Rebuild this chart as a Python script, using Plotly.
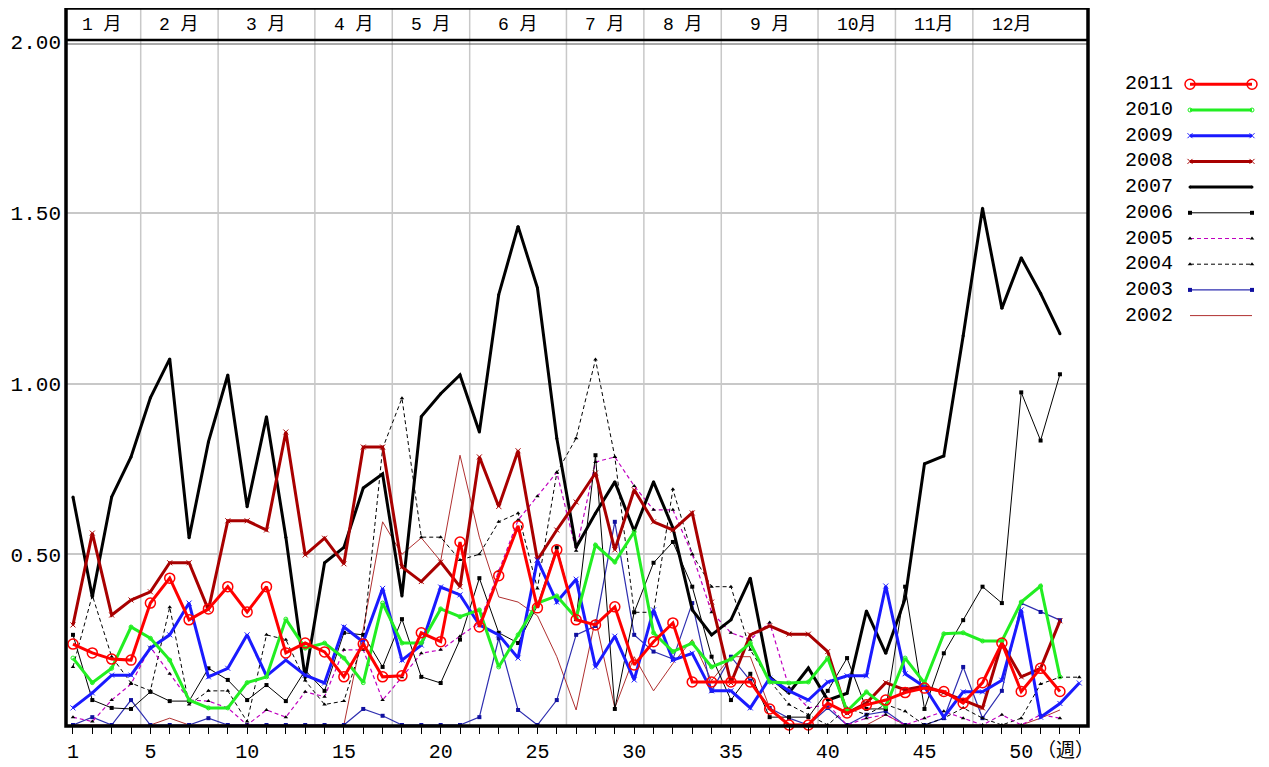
import plotly.graph_objects as go

# ---- data ----
years = ["2011", "2010", "2009", "2008", "2007", "2006", "2005", "2004", "2003", "2002"]

y2011 = [0.237, 0.211, 0.193, 0.19, 0.357, 0.43, 0.308, 0.34, 0.405, 0.331, 0.405, 0.211, 0.24,
         0.214, 0.141, 0.237, 0.141, 0.144, 0.27, 0.244, 0.536, 0.287, 0.437, 0.583, 0.343, 0.513,
         0.308, 0.293, 0.346, 0.176, 0.244, 0.299, 0.126, 0.126, 0.126, 0.126, 0.047, 0.0, 0.0,
         0.064, 0.035, 0.059, 0.073, 0.095, 0.108, 0.098, 0.064, 0.124, 0.24, 0.098, 0.166, 0.098]
y2010 = [0.196, 0.124, 0.166, 0.287, 0.254, 0.19, 0.073, 0.05, 0.05, 0.124, 0.141, 0.31, 0.225,
         0.24, 0.196, 0.124, 0.357, 0.24, 0.24, 0.34, 0.317, 0.337, 0.17, 0.264, 0.357, 0.378,
         0.313, 0.527, 0.477, 0.566, 0.27, 0.215, 0.24, 0.17, 0.193, 0.24, 0.126, 0.123, 0.126,
         0.196, 0.041, 0.097, 0.053, 0.196, 0.123, 0.267, 0.27, 0.246, 0.246, 0.36, 0.407, 0.141]
y2009 = [0.05, 0.094, 0.146, 0.146, 0.225, 0.264, 0.357, 0.141, 0.166, 0.264, 0.144, 0.19, 0.146,
         0.123, 0.287, 0.243, 0.40, 0.19, 0.234, 0.404, 0.381, 0.293, 0.264, 0.196, 0.483, 0.36,
         0.427, 0.17, 0.26, 0.132, 0.337, 0.19, 0.21, 0.1, 0.1, 0.05, 0.137, 0.1, 0.073, 0.126,
         0.144, 0.144, 0.407, 0.15, 0.112, 0.023, 0.097, 0.097, 0.131, 0.337, 0.023, 0.063, 0.123]
y2008 = [0.293, 0.562, 0.322, 0.366, 0.39, 0.475, 0.475, 0.337, 0.598, 0.598, 0.571, 0.858, 0.498,
         0.547, 0.472, 0.814, 0.814, 0.463, 0.42, 0.477, 0.405, 0.785, 0.64, 0.803, 0.483, 0.571,
         0.653, 0.738, 0.513, 0.689, 0.595, 0.571, 0.621, 0.36, 0.123, 0.264, 0.29, 0.266, 0.266,
         0.215, 0.035, 0.064, 0.124, 0.103, 0.114, 0.095, 0.073, 0.05, 0.24, 0.141, 0.166, 0.305]
y2007 = [0.668, 0.375, 0.668, 0.785, 0.958, 1.072, 0.548, 0.829, 1.025, 0.639, 0.903, 0.55, 0.138,
         0.475, 0.52, 0.694, 0.735, 0.378, 0.903, 0.97, 1.025, 0.858, 1.26, 1.46, 1.28, 0.84,
         0.52, 0.62, 0.712, 0.568, 0.712, 0.577, 0.337, 0.264, 0.308, 0.43, 0.141, 0.094, 0.167,
         0.073, 0.093, 0.334, 0.21, 0.37, 0.765, 0.788, 1.14, 1.513, 1.22, 1.368, 1.264, 1.146]
y2006 = [0.264, 0.073, 0.05, 0.047, 0.097, 0.07, 0.07, 0.166, 0.132, 0.073, 0.117, 0.07, 0.16,
         0.1, 0.27, 0.264, 0.17, 0.31, 0.141, 0.123, 0.25, 0.43, 0.27, 0.24, 0.35, 0.52, 0.31,
         0.79, 0.047, 0.33, 0.475, 0.536, 0.405, 0.2, 0.073, 0.15, 0.023, 0.023, 0.023, 0.1,
         0.196, 0.047, 0.047, 0.405, 0.047, 0.21, 0.307, 0.405, 0.357, 0.974, 0.833, 1.027]
y2005 = [0.023, 0.01, 0.073, 0.12, 0.228, 0.15, 0.073, 0.07, 0.05, 0.0, 0.044, 0.023, 0.097,
         0.083, 0.22, 0.22, 0.073, 0.14, 0.21, 0.22, 0.26, 0.3, 0.45, 0.6, 0.67, 0.74, 0.51,
         0.77, 0.785, 0.7, 0.63, 0.63, 0.5, 0.33, 0.27, 0.25, 0.3, 0.11, 0.05, 0.06, 0.0, 0.02,
         0.03, 0.0, 0.02, 0.04, 0.02, 0.0, 0.03, 0.0, 0.03, 0.02]
y2004 = [0.17, 0.38, 0.2, 0.123, 0.1, 0.345, 0.06, 0.1, 0.1, 0.01, 0.264, 0.25, 0.13, 0.06,
         0.07, 0.25, 0.81, 0.957, 0.55, 0.55, 0.483, 0.5, 0.595, 0.62, 0.4, 0.738, 0.84, 1.07,
         0.785, 0.33, 0.33, 0.69, 0.5, 0.405, 0.405, 0.22, 0.13, 0.06, 0.03, 0.0, 0.05, 0.03,
         0.06, 0.04, 0.0, 0.02, 0.05, 0.02, 0.0, 0.02, 0.12, 0.14, 0.14]
y2003 = [0.0, 0.023, 0.0, 0.073, 0.0, 0.0, 0.0, 0.02, 0.0, 0.0, 0.0, 0.0, 0.0, 0.0, 0.0, 0.047,
         0.027, 0.0, 0.0, 0.0, 0.0, 0.023, 0.254, 0.044, 0.0, 0.073, 0.264, 0.29, 0.595, 0.264,
         0.215, 0.193, 0.357, 0.1, 0.2, 0.13, 0.05, 0.02, 0.0, 0.05, 0.0, 0.03, 0.04, 0.0, 0.0,
         0.02, 0.17, 0.02, 0.1, 0.357, 0.331, 0.307]
y2002 = [0.0, 0.0, 0.0, 0.0, 0.0, 0.02, 0.0, 0.0, 0.0, 0.0, 0.0, 0.0, 0.0, 0.0, 0.0, 0.28, 0.595,
         0.5, 0.548, 0.48, 0.79, 0.55, 0.375, 0.36, 0.32, 0.2, 0.044, 0.31, 0.05, 0.2, 0.1, 0.18,
         0.25, 0.13, 0.2, 0.2, 0.05, 0.0, 0.0, 0.0, 0.0, 0.0, 0.03, 0.0, 0.0, 0.0, 0.0, 0.0, 0.0,
         0.0, 0.02, 0.044]

months = ["1 月", "2 月", "3 月", "4 月", "5 月", "6 月", "7 月", "8 月", "9 月", "10月", "11月", "12月"]
month_edges = [0.5, 4.5, 8.5, 13.5, 17.5, 21.5, 26.5, 30.5, 34.5, 39.5, 43.5, 47.5, 51.5]
x_labels = {1: "1", 5: "5", 10: "10", 15: "15", 20: "20", 25: "25", 30: "30", 35: "35",
            40: "40", 45: "45", 50: "50"}
y_ticks = [0.5, 1.0, 1.5, 2.0]
y_ticktext = ["0.50", "1.00", "1.50", "2.00"]

series = {"2011": y2011, "2010": y2010, "2009": y2009, "2008": y2008, "2007": y2007,
          "2006": y2006, "2005": y2005, "2004": y2004, "2003": y2003, "2002": y2002}

# line / marker styles per year
styles = {
    "2011": dict(line=dict(color="#FF0000", width=3),
                 marker=dict(symbol="circle-open", size=10, color="#FF0000", line=dict(width=1.5))),
    "2010": dict(line=dict(color="#22EE22", width=3),
                 marker=dict(symbol="circle-open", size=4, color="#22EE22")),
    "2009": dict(line=dict(color="#1A1AFF", width=3),
                 marker=dict(symbol="x-thin-open", size=5, color="#1A1AFF", line=dict(width=1))),
    "2008": dict(line=dict(color="#A80000", width=3),
                 marker=dict(symbol="x-thin-open", size=5, color="#A80000", line=dict(width=1))),
    "2007": dict(line=dict(color="#000000", width=3),
                 marker=dict(symbol="circle", size=3, color="#000000")),
    "2006": dict(line=dict(color="#000000", width=1),
                 marker=dict(symbol="square", size=4, color="#000000")),
    "2005": dict(line=dict(color="#C000C0", width=1.2, dash="4px,3px"),
                 marker=dict(symbol="triangle-up", size=4, color="#000000")),
    "2004": dict(line=dict(color="#000000", width=1, dash="4px,3px"),
                 marker=dict(symbol="triangle-up", size=4, color="#000000")),
    "2003": dict(line=dict(color="#2E2EB0", width=1.2),
                 marker=dict(symbol="square", size=4, color="#1010A0")),
    "2002": dict(line=dict(color="#B03030", width=1)),
}

mono = "Liberation Mono, Noto Sans CJK JP"
cjk = "Noto Sans CJK JP"

# the page body adds an 8px margin, so lay the figure out 8px up/left
OFF = 8
W, H = 1269 - OFF, 767 - OFF
plot_l, plot_r, plot_t, plot_b = 66 - OFF, 1088 - OFF, 42 - OFF, 725 - OFF
ml, mt, mr = plot_l, plot_t, 5
mb = H - plot_b
ph = plot_b - plot_t
pw = W - ml - mr
band_top = 1 + 34 / ph

fig = go.Figure()

# draw oldest first so 2011 ends up on top
for yr in reversed(years):
    vals = series[yr]
    st = styles[yr]
    mode = "lines+markers" if "marker" in st else "lines"
    fig.add_trace(go.Scatter(
        x=list(range(1, len(vals) + 1)), y=vals, name=yr, mode=mode,
        showlegend=False, cliponaxis=False, hoverinfo="x+y+name", **st
    ))

# custom legend: year text on the left, line sample on the right
row_step = 25.7
row0 = 84.3 - OFF
for i, yr in enumerate(years):
    st = styles[yr]
    mode = "lines+markers" if "marker" in st else "lines"
    row = row0 + i * row_step
    fig.add_trace(go.Scatter(
        x=[80, 142], y=[row, row], mode=mode, xaxis="x2", yaxis="y2",
        showlegend=False, hoverinfo="skip", cliponaxis=False, **st
    ))
fig.add_trace(go.Scatter(
    x=[39] * len(years), y=[row0 + i * row_step for i in range(len(years))],
    text=years, mode="text", xaxis="x2", yaxis="y2", showlegend=False, hoverinfo="skip",
    textfont=dict(family=mono, size=20, color="black"), cliponaxis=False
))

shapes = []
# month separators (through plot and band)
for e in month_edges[1:-1]:
    shapes.append(dict(type="line", xref="x", yref="paper", x0=e, x1=e, y0=0, y1=band_top,
                       line=dict(color="#C8C8C8", width=1.5), layer="below"))
# band separator double line
shapes.append(dict(type="line", xref="x domain", yref="paper", x0=0, x1=1,
                   y0=1.0 + 2 / ph, y1=1.0 + 2 / ph, line=dict(color="black", width=2.5)))
shapes.append(dict(type="line", xref="x domain", yref="paper", x0=0, x1=1,
                   y0=1.0 - 2 / ph, y1=1.0 - 2 / ph, line=dict(color="#555555", width=1.2)))
# outer frame
shapes.append(dict(type="rect", xref="x domain", yref="paper", x0=0, x1=1, y0=-1 / ph,
                   y1=band_top, line=dict(color="black", width=3.5)))

annotations = []
for i, m in enumerate(months):
    cx = (month_edges[i] + month_edges[i + 1]) / 2
    annotations.append(dict(x=cx, y=1 + 17 / ph, xref="x", yref="paper", xanchor="center",
                            yanchor="middle", text=m, showarrow=False,
                            font=dict(family=mono, size=18, color="black")))
annotations.append(dict(x=52.3, y=-23 / ph, xref="x", yref="paper", xanchor="center",
                        yanchor="middle", text="（週）", showarrow=False,
                        font=dict(family=cjk, size=19, color="black")))

tickvals = list(range(1, 54))
ticktext = [x_labels.get(v, "") for v in tickvals]

fig.update_layout(
    width=W, height=H,
    margin=dict(l=ml, r=mr, t=mt, b=mb),
    paper_bgcolor="white", plot_bgcolor="white",
    font=dict(family=mono, color="black"),
    shapes=shapes, annotations=annotations,
    xaxis=dict(domain=[0, (plot_r - plot_l) / pw], range=[0.64, 53.45], tickvals=tickvals,
               ticktext=ticktext, ticks="outside", ticklen=8, tickwidth=1, tickcolor="black",
               showgrid=False, zeroline=False, showline=False, automargin=False,
               tickfont=dict(family=mono, size=20, color="black"), fixedrange=True),
    yaxis=dict(range=[0, 2], tickvals=y_ticks, ticktext=y_ticktext, showgrid=True,
               gridcolor="#C8C8C8", gridwidth=1.5, zeroline=False, showline=False, ticks="",
               automargin=False, ticklabelstandoff=4,
               tickfont=dict(family=mono, size=21, color="black"), fixedrange=True),
    xaxis2=dict(domain=[(1110 - OFF - ml) / pw, (1262 - OFF - ml) / pw], range=[0, 152],
                visible=False, fixedrange=True, automargin=False),
    yaxis2=dict(domain=[0, 1], range=[plot_b, plot_t], anchor="x2", visible=False,
                fixedrange=True, automargin=False),
)

fig.write_html("out.html")
